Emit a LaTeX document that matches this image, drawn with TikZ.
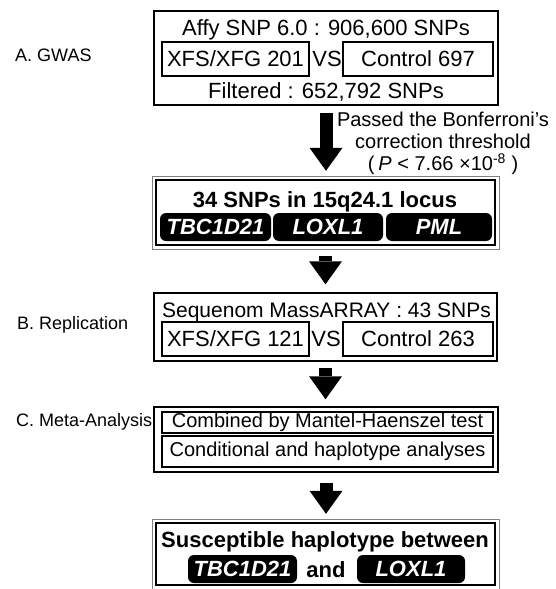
\documentclass[tikz,border=0pt]{standalone}
\usepackage{fontspec}
\setmainfont{Liberation Sans}
\usetikzlibrary{arrows.meta}
\newcommand{\normtxt}{\fontsize{20}{22}\selectfont}
\newcommand{\bigtxt}{\fontsize{22}{24}\selectfont}
\newcommand{\boldtxt}{\fontsize{22}{24}\selectfont\bfseries}
\newcommand{\genetxt}{\fontsize{22}{22}\selectfont\bfseries\itshape}
\newcommand{\sidetxt}{\fontsize{18}{20}\selectfont}
\tikzset{
  stagebox/.style = {draw, line width=1.4pt, inner sep=0pt},
  heavybox/.style = {draw, line width=2.4pt, inner sep=0pt},
  grpbox/.style   = {draw, line width=1.1pt, inner sep=0pt, minimum height=34pt, font=\bigtxt},
  subbox/.style   = {draw, line width=1.3pt, inner sep=0pt, minimum width=331pt, font=\normtxt},
  gene/.style     = {fill=black, rounded corners=6pt, text=white, inner sep=0pt,
                     minimum height=28pt, font=\genetxt},
  txt/.style      = {inner sep=0pt, font=\bigtxt},
  sidelab/.style  = {inner sep=0pt, anchor=west, font=\sidetxt},
  bigarr/.style   = {line width=13pt, -{Triangle[length=23pt,width=33pt,line width=0pt]}}
}

\begin{document}
\begin{tikzpicture}[x=1pt,y=-1pt]
  \useasboundingbox (0,0) rectangle (556,589);
  % A. GWAS
  \node[sidelab] (labA) at (15,55) {A. GWAS};
  \node[stagebox, minimum width=344pt, minimum height=94pt] (gwas) at (326,58) {};
  \node[txt, anchor=base] (affy) at (326,35) {Affy SNP 6.0 : 906,600 SNPs};
  \node[grpbox, minimum width=147pt] (caseA) at (235.5,59) {XFS/XFG 201};
  \node[txt] (vsA) at (327,59) {VS};
  \node[grpbox, minimum width=150pt] (ctrlA) at (418,59) {Control 697};
  \node[txt, anchor=base] (filt) at (326,98) {Filtered : 652,792 SNPs};
  % locus box
  \node[heavybox, minimum width=339pt, minimum height=65pt] (locus) at (325.5,212.5) {};
  \draw[gray, line width=0.6pt] ([shift={(-3pt,3pt)}]locus.north west)
    rectangle ([shift={(3pt,-3pt)}]locus.south east);
  \node[txt, font=\boldtxt, anchor=base] (snps) at (325,207) {34 SNPs in 15q24.1 locus};
  \node[gene, minimum width=111pt] (tbcA) at (215.5,227) {TBC1D21};
  \node[gene, minimum width=110pt] (loxA) at (328,227) {LOXL1};
  \node[gene, minimum width=106pt] (pml)  at (439,227) {PML};
  \node[txt, font=\normtxt, align=center, anchor=north] (bonf) at (443,112)
    {Passed the Bonferroni's\\correction threshold\\(\hspace{4pt}\textit{P} < 7.66 ×10\textsuperscript{-8} )};
  % B. Replication
  \node[sidelab] (labB) at (17,325) {B. Replication};
  \node[stagebox, minimum width=343pt, minimum height=68pt] (repl) at (325.5,327) {};
  \node[txt, font=\fontsize{21}{22}\selectfont, anchor=base] (seqn) at (326.5,317) {Sequenom MassARRAY : 43 SNPs};
  \node[grpbox, minimum width=147pt] (caseB) at (235.5,339) {XFS/XFG 121};
  \node[txt] (vsB) at (326,339) {VS};
  \node[grpbox, minimum width=150pt] (ctrlB) at (418,339) {Control 263};
  % C. Meta-Analysis
  \node[sidelab] (labC) at (16,422) {C. Meta-Analysis};
  \node[stagebox, minimum width=344pt, minimum height=65pt] (meta) at (326,439.5) {};
  \node[subbox, minimum height=21pt] (mh)   at (327.5,422.5) {Combined by Mantel-Haenszel test};
  \node[subbox, minimum height=31pt] (cond) at (327.5,451.5) {Conditional and haplotype analyses};
  % result
  \node[heavybox, minimum width=339pt, minimum height=62pt] (hapl) at (325.5,554) {};
  \draw[gray, line width=0.6pt] ([shift={(-3pt,3pt)}]hapl.north west)
    rectangle ([shift={(3pt,-3pt)}]hapl.south east);
  \node[txt, font=\boldtxt, anchor=base] (susc) at (325,547) {Susceptible haplotype between};
  \node[gene, minimum width=109pt] (tbcB) at (242.5,569) {TBC1D21};
  \node[txt, font=\boldtxt, anchor=base] (andw) at (326,577) {and};
  \node[gene, minimum width=108pt] (loxB) at (411,569) {LOXL1};
  % arrows
  \draw[bigarr, shorten <=7pt, shorten >=8pt] (gwas.south) -- (gwas.south |- locus.north);
  \draw[bigarr, shorten <=10pt, shorten >=8pt] (locus.south) -- (locus.south |- repl.north);
  \draw[bigarr, shorten <=6pt, shorten >=7pt] (repl.south) -- (repl.south |- meta.north);
  \draw[bigarr, shorten <=10pt, shorten >=8pt] (meta.south) -- (meta.south |- hapl.north);
\end{tikzpicture}
\end{document}
